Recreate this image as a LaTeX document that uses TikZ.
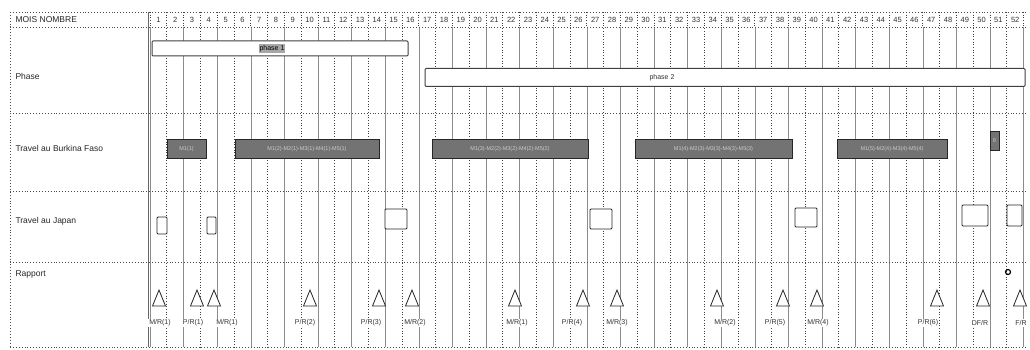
\documentclass[tikz,border=0pt]{standalone}
\usepackage{fontspec}
\setmainfont{Liberation Sans}
\usetikzlibrary{shapes.geometric}
\begin{document}
\begin{tikzpicture}[x=1pt,y=-1pt,
  dotgrid/.style={black!75, dotted, line width=0.7pt},
  solidgrid/.style={black!45, line width=0.6pt},
  rowline/.style={black!70, dotted, line width=0.9pt},
  phasebar/.style={draw=black!75, fill=white, line width=1pt, rounded corners=1pt, inner sep=0pt},
  burkbar/.style={draw=black!85, fill=black!55, text=black!20, font=\fontsize{5.5}{6}\selectfont, inner sep=0pt, line width=0.7pt},
  japbox/.style={draw=black!85, fill=white, line width=0.8pt, rounded corners=1pt, inner sep=0pt},
  tri/.style={draw=black!85, fill=white, line width=0.8pt, line join=miter},
  replabel/.style={font=\fontsize{7}{8}\selectfont, text=black!80, fill=white, inner sep=1pt},
  rowlabel/.style={font=\fontsize{8.5}{10}\selectfont, anchor=west, text=black!85},
  num/.style={font=\fontsize{7.5}{8}\selectfont, text=black!80}]
\fill[white] (0,0) rectangle (1030,350);
\useasboundingbox (0,0) rectangle (1030,350);
% vertical grid of the months
\foreach \k in {0,...,52}{
  \pgfmathsetmacro\xx{150+16.8*\k}
  \ifodd\k
    \draw[dotgrid] (\xx,12) -- (\xx,347);
  \else
    \draw[solidgrid] (\xx,27) -- (\xx,347);
    \draw[dotgrid] (\xx,12) -- (\xx,27);
  \fi
}
% month numbers
\foreach \k in {1,...,52}{
  \pgfmathsetmacro\xx{150+16.8*\k-8.4}
  \node[num] (m\k) at (\xx,19.5) {\k};
}
% row dividers and frame
\foreach \yy in {12,27,113,191,262,347}{
  \draw[rowline] (10,\yy) -- (1027,\yy);
}
\draw[rowline] (10,12) -- (10,347);
\draw[black!60, line width=0.8pt] (148,12) -- (148,347);
% row labels
\node[rowlabel] (hdr) at (12,19.5) {MOIS NOMBRE};
\node[rowlabel] (lphase) at (12,76) {Phase};
\node[rowlabel] (lburk) at (12,148) {Travel au Burkina Faso};
\node[rowlabel] (ljap) at (12,221) {Travel au Japan};
\node[rowlabel] (lrap) at (12,274) {Rapport};
% phases
\node[phasebar, minimum width=256pt, minimum height=15pt] (p1) at (280,48.5) {};
\node[fill=black!35, inner sep=1pt, font=\fontsize{7}{8}\selectfont] (p1t) at (272,48.5) {phase 1};
\node[phasebar, minimum width=600pt, minimum height=18pt] (p2) at (725,77.5) {};
\node[font=\fontsize{7}{8}\selectfont, text=black!80] (p2t) at (662,77.5) {phase 2};
% travel Burkina Faso
\node[burkbar, minimum width=39pt, minimum height=19pt] (b1) at (186.5,149) {M1(1)};
\node[burkbar, minimum width=144pt, minimum height=19pt] (b2) at (307,149) {M1(2)-M2(1)-M3(1)-M4(1)-M5(1)};
\node[burkbar, minimum width=156pt, minimum height=19pt] (b3) at (510,149) {M1(3)-M2(2)-M3(2)-M4(2)-M5(2)};
\node[burkbar, minimum width=157pt, minimum height=19pt] (b4) at (713.5,149) {M1(4)-M2(3)-M3(3)-M4(3)-M5(3)};
\node[burkbar, minimum width=110pt, minimum height=19pt] (b5) at (892,149) {M1(5)-M2(4)-M3(4)-M5(4)};
\node[burkbar, minimum width=9pt, minimum height=19pt] (b6) at (994.5,140.5) {9};
% travel Japan
\node[japbox, minimum width=10pt, minimum height=17pt] (j1) at (162,225.5) {};
\node[japbox, minimum width=9pt, minimum height=17pt] (j2) at (211.5,225.5) {};
\node[japbox, minimum width=22pt, minimum height=20pt] (j3) at (396,219) {};
\node[japbox, minimum width=22pt, minimum height=20pt] (j4) at (601,219) {};
\node[japbox, minimum width=22pt, minimum height=19pt] (j5) at (806,217.5) {};
\node[japbox, minimum width=26pt, minimum height=21pt] (j6) at (975,215.5) {};
\node[japbox, minimum width=15pt, minimum height=21pt] (j7) at (1014.5,215.5) {};
% reports
\foreach \n/\x/\lx/\t in {1/159/160/{M/R(1)}, 2/197/193/{P/R(1)}, 3/214/227/{M/R(1)}, 4/310/305/{P/R(2)},
  5/379/371/{P/R(3)}, 6/412/415/{M/R(2)}, 7/515/517/{M/R(1)}, 8/583/572/{P/R(4)}, 9/617/617/{M/R(3)},
  10/717/725/{M/R(2)}, 11/783/775/{P/R(5)}, 12/817/818/{M/R(4)}, 13/937/928/{P/R(6)}, 14/983/980/{DF/R}, 15/1020/1021/{F/R}}{
  \coordinate (r\n) at (\x,290);
  \draw[tri] (r\n) -- ++(6.5,16) -- ++(-13,0) -- cycle;
  \node[replabel] (rl\n) at (\lx,323) {\t};
}
\node[draw=black, line width=1.2pt, circle, inner sep=0pt, minimum size=5pt] (mark) at (1008,272) {};
\end{tikzpicture}
\end{document}
